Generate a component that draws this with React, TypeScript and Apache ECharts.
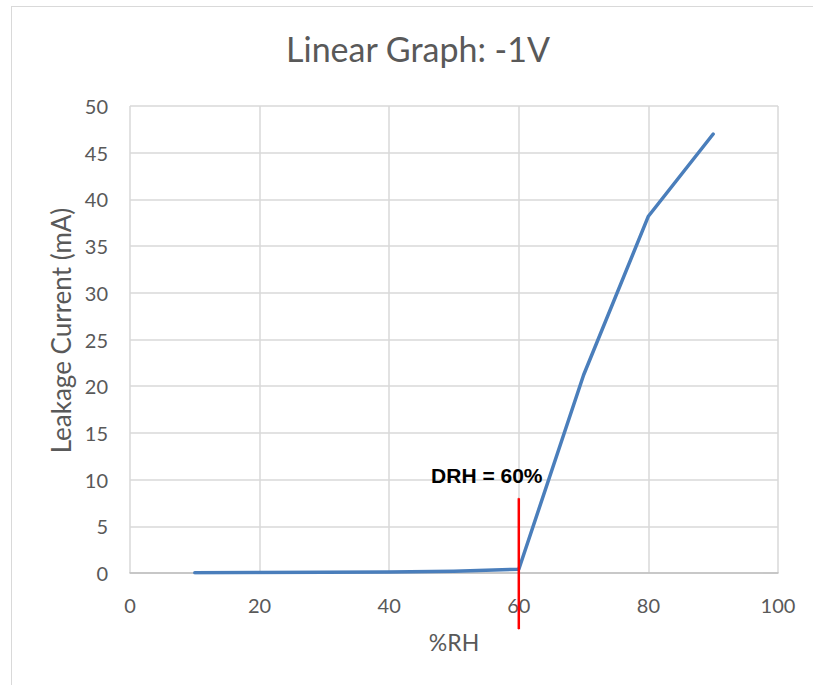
import React, { useEffect, useRef } from "react";
import * as echarts from "echarts";

const rhValues = [10, 20, 30, 40, 50, 60, 70, 80, 90];
const leakageValues = [0.02, 0.05, 0.08, 0.12, 0.2, 0.4, 21.2, 38.2, 47.0];
const drhX = 60;
const drhLineValues = [8, -6];
const drhLabel = "DRH = 60%";
const titleText = "Linear Graph: -1V";
const xName = "%RH";
const yName = "Leakage Current (mA)";

const FONT = "Lato, 'Noto Sans', sans-serif";
const GREY = "#595959";

export default function App() {
  const ref = useRef<HTMLDivElement>(null);
  useEffect(() => {
    if (!ref.current) return;
    const chart = echarts.init(ref.current, undefined, { renderer: "svg" });
    const mainData = rhValues.map((x, i) => [x, leakageValues[i]]);
    const drhData = drhLineValues.map((y, i) => ({
      value: [drhX, y],
      label:
        i === 0
          ? {
              show: true,
              formatter: drhLabel,
              position: "top",
              distance: 0,
              offset: [-32, -12],
              fontFamily: "'Liberation Sans', Arial, sans-serif",
              fontWeight: "bold",
              fontSize: 21,
              color: "#000000",
            }
          : { show: false },
    }));
    chart.setOption({
      animation: false,
      backgroundColor: "#ffffff",
      title: {
        text: titleText,
        left: 413,
        textAlign: "center",
        top: 26,
        textStyle: {
          fontFamily: FONT,
          fontWeight: "normal",
          fontSize: 34,
          color: GREY,
        },
      },
      grid: { left: 130, right: 35, top: 106, bottom: 112 },
      xAxis: {
        type: "value",
        min: 0,
        max: 100,
        interval: 20,
        name: xName,
        nameLocation: "middle",
        nameGap: 57,
        nameTextStyle: { fontFamily: FONT, fontSize: 23, color: GREY },
        axisLine: { show: true, lineStyle: { color: "#BFBFBF", width: 1.5 } },
        axisTick: { show: false },
        axisLabel: { fontFamily: FONT, fontSize: 20, color: GREY, margin: 22 },
        splitLine: { show: true, lineStyle: { color: "#D9D9D9", width: 1.5 } },
      },
      yAxis: {
        type: "value",
        min: 0,
        max: 50,
        interval: 5,
        name: yName,
        nameLocation: "middle",
        nameGap: 50,
        nameTextStyle: {
          fontFamily: FONT,
          fontSize: 26,
          color: GREY,
          padding: [0, 0, 0, 18],
        },
        axisLine: { show: false },
        axisTick: { show: false },
        axisLabel: { fontFamily: FONT, fontSize: 20, color: GREY, margin: 22 },
        splitLine: { show: true, lineStyle: { color: "#D9D9D9", width: 1.5 } },
      },
      series: [
        {
          type: "line",
          data: mainData,
          symbol: "none",
          lineStyle: { color: "#4A7EBB", width: 3.5, cap: "round", join: "round" },
          z: 2,
        },
        {
          type: "line",
          data: drhData,
          symbol: "circle",
          symbolSize: 1,
          showSymbol: true,
          itemStyle: { color: "#FF0000" },
          clip: false,
          lineStyle: { color: "#FF0000", width: 2.5 },
          z: 3,
        },
      ],
    });
    return () => chart.dispose();
  }, []);
  return (
    <div
      style={{
        position: "fixed",
        left: 0,
        top: 0,
        width: 813,
        height: 685,
        overflow: "hidden",
        background: "#ffffff",
      }}
    >
      <div ref={ref} style={{ position: "absolute", left: 0, top: 0, width: 813, height: 685 }} />
      <div
        style={{
          position: "absolute",
          left: 11,
          top: 6,
          width: 900,
          height: 800,
          border: "1.5px solid #D9D9D9",
          pointerEvents: "none",
        }}
      />
    </div>
  );
}
